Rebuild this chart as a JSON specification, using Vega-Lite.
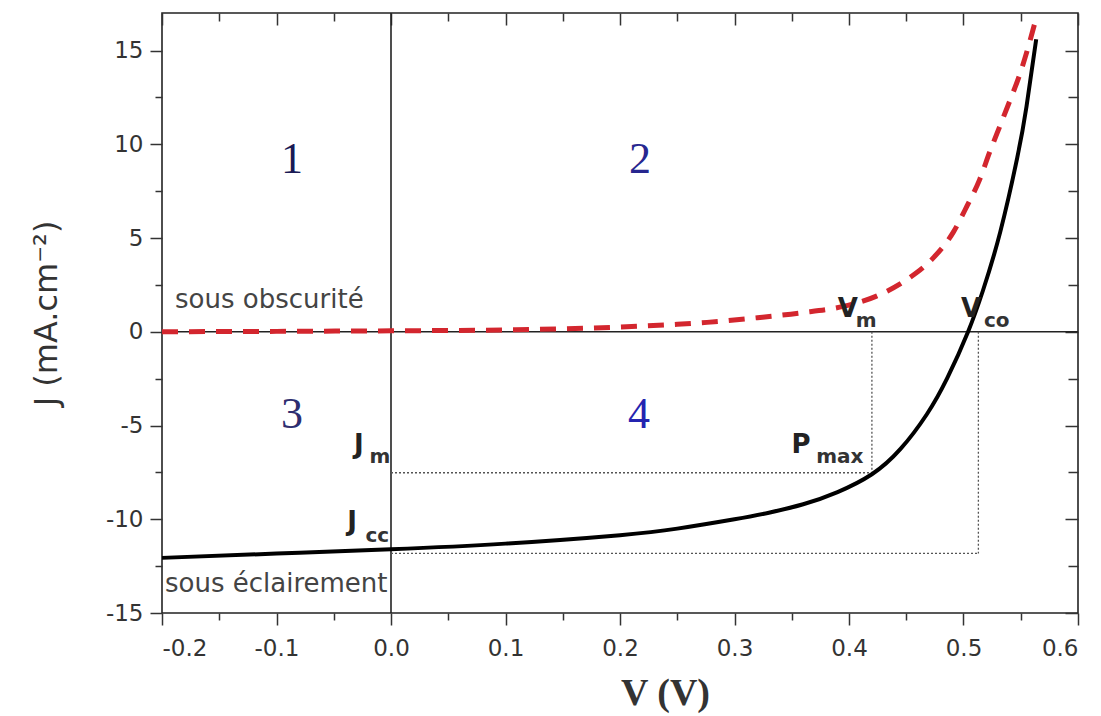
{
  "$schema": "https://vega.github.io/schema/vega-lite/v6.json",
  "width": 916,
  "height": 600,
  "autosize": {"type": "none"},
  "padding": {"left": 162, "top": 13, "right": 23, "bottom": 103},
  "background": "white",
  "config": {
    "view": {"stroke": "#222", "strokeWidth": 1.6},
    "axis": {"grid": false, "domain": false, "tickColor": "#333", "tickWidth": 1.5, "labelFont": "DejaVu Sans", "labelFontSize": 23, "labelColor": "#333", "titleColor": "#333"}
  },
  "datasets": {
    "curves": [
      {"V": -0.2, "J": -12.06, "s": "ecl"}, {"V": -0.1, "J": -11.83, "s": "ecl"}, {"V": 0.0, "J": -11.6, "s": "ecl"},
      {"V": 0.1, "J": -11.3, "s": "ecl"}, {"V": 0.2, "J": -10.85, "s": "ecl"}, {"V": 0.25, "J": -10.5, "s": "ecl"},
      {"V": 0.3, "J": -10.0, "s": "ecl"}, {"V": 0.33, "J": -9.65, "s": "ecl"}, {"V": 0.36, "J": -9.2, "s": "ecl"},
      {"V": 0.39, "J": -8.55, "s": "ecl"}, {"V": 0.42, "J": -7.6, "s": "ecl"}, {"V": 0.445, "J": -6.25, "s": "ecl"},
      {"V": 0.468, "J": -4.4, "s": "ecl"}, {"V": 0.486, "J": -2.45, "s": "ecl"}, {"V": 0.504, "J": 0.0, "s": "ecl"},
      {"V": 0.517, "J": 2.2, "s": "ecl"}, {"V": 0.532, "J": 5.3, "s": "ecl"}, {"V": 0.547, "J": 9.3, "s": "ecl"},
      {"V": 0.555, "J": 12.0, "s": "ecl"}, {"V": 0.5635, "J": 15.6, "s": "ecl"},
      {"V": -0.2, "J": 0.0, "s": "obs"}, {"V": -0.1, "J": 0.02, "s": "obs"}, {"V": 0.0, "J": 0.05, "s": "obs"},
      {"V": 0.1, "J": 0.1, "s": "obs"}, {"V": 0.2, "J": 0.25, "s": "obs"}, {"V": 0.25, "J": 0.4, "s": "obs"},
      {"V": 0.276, "J": 0.5, "s": "obs"}, {"V": 0.32, "J": 0.75, "s": "obs"}, {"V": 0.357, "J": 1.0, "s": "obs"},
      {"V": 0.395, "J": 1.35, "s": "obs"}, {"V": 0.424, "J": 1.9, "s": "obs"}, {"V": 0.451, "J": 2.8, "s": "obs"},
      {"V": 0.473, "J": 3.9, "s": "obs"}, {"V": 0.491, "J": 5.3, "s": "obs"}, {"V": 0.503, "J": 6.7, "s": "obs"},
      {"V": 0.514, "J": 8.1, "s": "obs"}, {"V": 0.523, "J": 9.6, "s": "obs"}, {"V": 0.532, "J": 11.0, "s": "obs"},
      {"V": 0.541, "J": 12.4, "s": "obs"}, {"V": 0.549, "J": 13.7, "s": "obs"}, {"V": 0.558, "J": 15.5, "s": "obs"},
      {"V": 0.562, "J": 16.4, "s": "obs"}
    ],
    "dotted": [
      {"V1": 0.42, "V2": 0.42, "J1": 0, "J2": -7.52},
      {"V1": 0, "V2": 0.42, "J1": -7.52, "J2": -7.52},
      {"V1": 0.513, "V2": 0.513, "J1": 0, "J2": -11.82},
      {"V1": 0, "V2": 0.513, "J1": -11.82, "J2": -11.82}
    ],
    "regions": [
      {"V": -0.0865, "J": 8.48, "label": "1"}, {"V": 0.2175, "J": 8.48, "label": "2"},
      {"V": -0.0865, "J": -5.12, "label": "3"}, {"V": 0.2166, "J": -5.12, "label": "4"}
    ],
    "letters": [
      {"V": -0.028, "J": -6.45, "t": "J"}, {"V": -0.034, "J": -10.56, "t": "J"},
      {"V": 0.399, "J": 0.79, "t": "V"}, {"V": 0.5066, "J": 0.79, "t": "V"}, {"V": 0.358, "J": -6.45, "t": "P"}
    ],
    "subs": [
      {"V": -0.0096, "J": -7.0, "t": "m"}, {"V": -0.012, "J": -11.2, "t": "cc"},
      {"V": 0.415, "J": 0.25, "t": "m"}, {"V": 0.529, "J": 0.25, "t": "co"}, {"V": 0.392, "J": -7.0, "t": "max"}
    ],
    "notes": [
      {"V": -0.1886, "J": 1.28, "t": "sous obscurité"}, {"V": -0.1974, "J": -13.87, "t": "sous éclairement"}
    ]
  },
  "layer": [
    {
      "data": {"values": [{"V": 0}]},
      "mark": {"type": "rule", "color": "#222", "strokeWidth": 1.6},
      "encoding": {
        "x": {"field": "V", "type": "quantitative", "scale": {"domain": [-0.2, 0.6], "nice": false, "zero": false},
              "axis": {"orient": "top", "values": [-0.2, -0.1, 0, 0.1, 0.2, 0.3, 0.4, 0.5, 0.6], "tickSize": -12, "labels": false, "title": null}}
      }
    },
    {
      "data": {"values": [{"J": 0}]},
      "mark": {"type": "rule", "color": "#222", "strokeWidth": 1.6},
      "encoding": {
        "y": {"field": "J", "type": "quantitative", "scale": {"domain": [-15, 17], "nice": false, "zero": false},
              "axis": {"orient": "right", "values": [-15, -10, -5, 0, 5, 10, 15], "tickSize": -13, "labels": false, "title": null}}
      }
    },
    {
      "data": {"name": "dotted"},
      "mark": {"type": "rule", "color": "#555", "strokeWidth": 1.3, "strokeDash": [2, 2]},
      "encoding": {
        "x": {"field": "V1", "type": "quantitative", "scale": {"domain": [-0.2, 0.6], "nice": false, "zero": false},
              "axis": {"orient": "top", "values": [-0.15, -0.05, 0.05, 0.15, 0.25, 0.35, 0.45, 0.55], "tickSize": -8, "labels": false, "title": null}},
        "x2": {"field": "V2"},
        "y": {"field": "J1", "type": "quantitative", "scale": {"domain": [-15, 17], "nice": false, "zero": false},
              "axis": {"orient": "right", "values": [-12.5, -7.5, -2.5, 2.5, 7.5, 12.5], "tickSize": -10, "labels": false, "title": null}},
        "y2": {"field": "J2"}
      }
    },
    {
      "data": {"name": "curves"},
      "transform": [{"filter": "datum.s === 'ecl'"}],
      "mark": {"type": "line", "color": "#000", "strokeWidth": 4, "interpolate": "natural"},
      "encoding": {
        "x": {"field": "V", "type": "quantitative", "scale": {"domain": [-0.2, 0.6], "nice": false, "zero": false},
              "axis": {"orient": "bottom", "values": [-0.2, -0.1, 0, 0.1, 0.2, 0.3, 0.4, 0.5, 0.6], "tickSize": 12, "labelPadding": 12,
                       "labelExpr": "datum.value < 0 ? '-' + format(-datum.value, '.1f') : format(datum.value, '.1f')",
                       "title": "V (V)", "titleFont": "Liberation Serif", "titleFontWeight": "bold", "titleFontSize": 38, "titlePadding": 14, "titleX": 503}},
        "y": {"field": "J", "type": "quantitative", "scale": {"domain": [-15, 17], "nice": false, "zero": false},
              "axis": {"orient": "left", "values": [-15, -10, -5, 0, 5, 10, 15], "tickSize": 12, "labelPadding": 7,
                       "labelExpr": "datum.value < 0 ? '-' + format(-datum.value, 'd') : format(datum.value, 'd')",
                       "title": "J (mA.cm⁻²)", "titleFont": "DejaVu Sans", "titleFontWeight": "normal", "titleFontSize": 32, "titlePadding": 42}}
      }
    },
    {
      "data": {"name": "curves"},
      "transform": [{"filter": "datum.s === 'obs'"}],
      "mark": {"type": "line", "color": "#d3262e", "strokeWidth": 5, "strokeDash": [16, 11], "interpolate": "monotone"},
      "encoding": {
        "x": {"field": "V", "type": "quantitative", "scale": {"domain": [-0.2, 0.6], "nice": false, "zero": false},
              "axis": {"orient": "bottom", "values": [-0.15, -0.05, 0.05, 0.15, 0.25, 0.35, 0.45, 0.55], "tickSize": 7, "labels": false, "title": null}},
        "y": {"field": "J", "type": "quantitative", "scale": {"domain": [-15, 17], "nice": false, "zero": false},
              "axis": {"orient": "left", "values": [-12.5, -7.5, -2.5, 2.5, 7.5, 12.5], "tickSize": 7, "labels": false, "title": null}}
      }
    },
    {
      "data": {"name": "regions"},
      "mark": {"type": "text", "font": "Liberation Serif", "fontSize": 44, "align": "center", "baseline": "alphabetic"},
      "encoding": {
        "x": {"field": "V", "type": "quantitative", "scale": {"domain": [-0.2, 0.6], "nice": false, "zero": false}, "axis": null},
        "y": {"field": "J", "type": "quantitative", "scale": {"domain": [-15, 17], "nice": false, "zero": false}, "axis": null},
        "text": {"field": "label"},
        "color": {"field": "label", "type": "nominal", "scale": {"domain": ["1", "2", "3", "4"], "range": ["#1a1a55", "#27278f", "#2e2e70", "#2424b0"]}, "legend": null}
      }
    },
    {
      "data": {"name": "letters"},
      "mark": {"type": "text", "font": "DejaVu Sans", "fontWeight": "bold", "fontSize": 26, "align": "center", "baseline": "alphabetic", "color": "#222"},
      "encoding": {
        "x": {"field": "V", "type": "quantitative", "scale": {"domain": [-0.2, 0.6], "nice": false, "zero": false}, "axis": null},
        "y": {"field": "J", "type": "quantitative", "scale": {"domain": [-15, 17], "nice": false, "zero": false}, "axis": null},
        "text": {"field": "t"}
      }
    },
    {
      "data": {"name": "subs"},
      "mark": {"type": "text", "font": "DejaVu Sans", "fontWeight": "bold", "fontSize": 20, "align": "center", "baseline": "alphabetic", "color": "#333"},
      "encoding": {
        "x": {"field": "V", "type": "quantitative", "scale": {"domain": [-0.2, 0.6], "nice": false, "zero": false}, "axis": null},
        "y": {"field": "J", "type": "quantitative", "scale": {"domain": [-15, 17], "nice": false, "zero": false}, "axis": null},
        "text": {"field": "t"}
      }
    },
    {
      "data": {"name": "notes"},
      "mark": {"type": "text", "font": "DejaVu Sans", "fontSize": 26, "align": "left", "baseline": "alphabetic", "color": "#444"},
      "encoding": {
        "x": {"field": "V", "type": "quantitative", "scale": {"domain": [-0.2, 0.6], "nice": false, "zero": false}, "axis": null},
        "y": {"field": "J", "type": "quantitative", "scale": {"domain": [-15, 17], "nice": false, "zero": false}, "axis": null},
        "text": {"field": "t"}
      }
    }
  ],
  "resolve": {"axis": {"x": "independent", "y": "independent"}}
}
